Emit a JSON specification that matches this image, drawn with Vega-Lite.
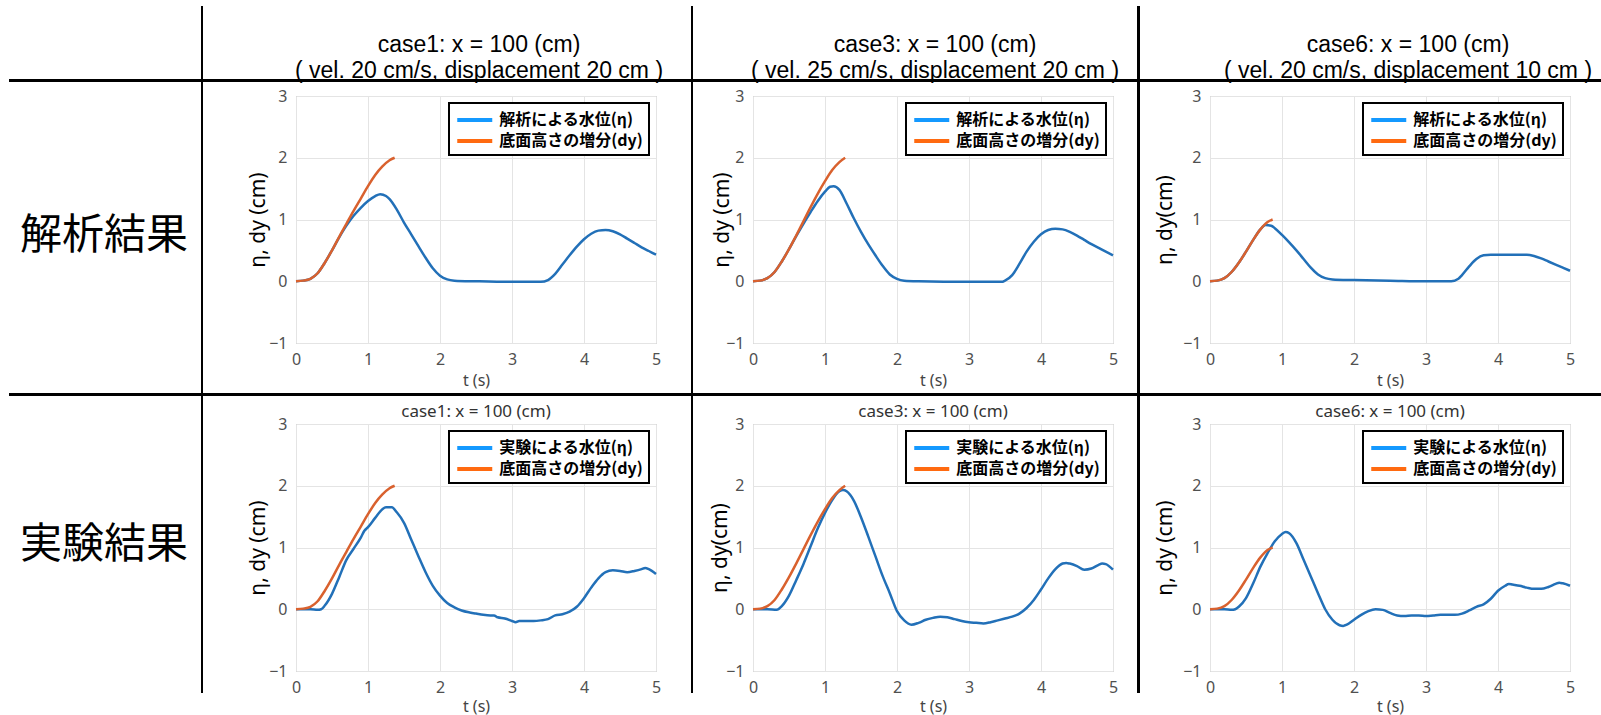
{
"$schema": "https://vega.github.io/schema/vega-lite/v6.json",
"padding": {"top": 6, "left": 0, "right": 0, "bottom": 0},
"columns": 14,
"spacing": 0,
"bounds": "flush",
"resolve": {"scale": {"color": "independent"}, "legend": {"color": "independent"}},
"data": {"values": []},
"datasets": {
"la": [{"s":"解析による水位(η)"},{"s":"底面高さの増分(dy)"}],
"le": [{"s":"実験による水位(η)"},{"s":"底面高さの増分(dy)"}],
"d1": [{"t":0,"v":0},{"t":0.1,"v":0.01},{"t":0.2,"v":0.04},{"t":0.3,"v":0.13},{"t":0.4,"v":0.3},{"t":0.5,"v":0.5},{"t":0.6,"v":0.72},{"t":0.7,"v":0.93},{"t":0.8,"v":1.14},{"t":0.9,"v":1.34},{"t":1.0,"v":1.54},{"t":1.1,"v":1.72},{"t":1.2,"v":1.86},{"t":1.3,"v":1.96},{"t":1.37,"v":2.0}],
"d3": [{"t":0,"v":0},{"t":0.1,"v":0.01},{"t":0.2,"v":0.05},{"t":0.3,"v":0.15},{"t":0.4,"v":0.32},{"t":0.5,"v":0.52},{"t":0.6,"v":0.74},{"t":0.7,"v":0.97},{"t":0.8,"v":1.2},{"t":0.9,"v":1.42},{"t":1.0,"v":1.62},{"t":1.1,"v":1.8},{"t":1.2,"v":1.93},{"t":1.28,"v":2.0}],
"d6": [{"t":0,"v":0},{"t":0.1,"v":0.01},{"t":0.2,"v":0.05},{"t":0.3,"v":0.15},{"t":0.4,"v":0.3},{"t":0.5,"v":0.48},{"t":0.6,"v":0.67},{"t":0.7,"v":0.84},{"t":0.8,"v":0.96},{"t":0.87,"v":1.0}],
"a1": [{"t":0,"v":0},{"t":0.1,"v":0.01},{"t":0.2,"v":0.04},{"t":0.3,"v":0.13},{"t":0.4,"v":0.3},{"t":0.5,"v":0.5},{"t":0.6,"v":0.71},{"t":0.7,"v":0.9},{"t":0.8,"v":1.06},{"t":0.9,"v":1.19},{"t":1.0,"v":1.3},{"t":1.1,"v":1.38},{"t":1.17,"v":1.41},{"t":1.25,"v":1.38},{"t":1.3,"v":1.33},{"t":1.4,"v":1.16},{"t":1.5,"v":0.95},{"t":1.6,"v":0.76},{"t":1.7,"v":0.57},{"t":1.8,"v":0.38},{"t":1.9,"v":0.21},{"t":2.0,"v":0.09},{"t":2.1,"v":0.03},{"t":2.2,"v":0.01},{"t":2.5,"v":0},{"t":3.0,"v":-0.01},{"t":3.4,"v":-0.01},{"t":3.5,"v":0.02},{"t":3.6,"v":0.12},{"t":3.7,"v":0.27},{"t":3.8,"v":0.42},{"t":3.9,"v":0.56},{"t":4.0,"v":0.68},{"t":4.1,"v":0.77},{"t":4.2,"v":0.82},{"t":4.3,"v":0.83},{"t":4.4,"v":0.81},{"t":4.5,"v":0.76},{"t":4.6,"v":0.69},{"t":4.7,"v":0.62},{"t":4.8,"v":0.55},{"t":4.9,"v":0.49},{"t":5.0,"v":0.43}],
"a3": [{"t":0,"v":0},{"t":0.1,"v":0.01},{"t":0.2,"v":0.05},{"t":0.3,"v":0.15},{"t":0.4,"v":0.32},{"t":0.5,"v":0.52},{"t":0.6,"v":0.73},{"t":0.7,"v":0.93},{"t":0.8,"v":1.12},{"t":0.9,"v":1.3},{"t":1.0,"v":1.45},{"t":1.07,"v":1.53},{"t":1.12,"v":1.54},{"t":1.2,"v":1.48},{"t":1.3,"v":1.26},{"t":1.4,"v":1.02},{"t":1.5,"v":0.8},{"t":1.6,"v":0.6},{"t":1.7,"v":0.42},{"t":1.8,"v":0.25},{"t":1.9,"v":0.11},{"t":2.0,"v":0.04},{"t":2.1,"v":0.01},{"t":2.3,"v":0},{"t":3.0,"v":-0.01},{"t":3.45,"v":-0.01},{"t":3.5,"v":0.01},{"t":3.6,"v":0.1},{"t":3.7,"v":0.28},{"t":3.8,"v":0.48},{"t":3.9,"v":0.64},{"t":4.0,"v":0.76},{"t":4.1,"v":0.83},{"t":4.2,"v":0.85},{"t":4.3,"v":0.84},{"t":4.4,"v":0.8},{"t":4.5,"v":0.74},{"t":4.6,"v":0.67},{"t":4.7,"v":0.6},{"t":4.8,"v":0.54},{"t":4.9,"v":0.48},{"t":5.0,"v":0.42}],
"a6": [{"t":0,"v":0},{"t":0.1,"v":0.01},{"t":0.2,"v":0.05},{"t":0.3,"v":0.15},{"t":0.4,"v":0.3},{"t":0.5,"v":0.48},{"t":0.6,"v":0.67},{"t":0.7,"v":0.84},{"t":0.77,"v":0.91},{"t":0.85,"v":0.9},{"t":0.9,"v":0.86},{"t":1.0,"v":0.75},{"t":1.1,"v":0.63},{"t":1.2,"v":0.5},{"t":1.3,"v":0.36},{"t":1.4,"v":0.22},{"t":1.5,"v":0.11},{"t":1.6,"v":0.05},{"t":1.7,"v":0.03},{"t":2.0,"v":0.02},{"t":2.5,"v":0.01},{"t":3.0,"v":0},{"t":3.35,"v":0},{"t":3.45,"v":0.04},{"t":3.5,"v":0.1},{"t":3.6,"v":0.24},{"t":3.7,"v":0.36},{"t":3.8,"v":0.42},{"t":3.9,"v":0.43},{"t":4.4,"v":0.43},{"t":4.5,"v":0.41},{"t":4.6,"v":0.37},{"t":4.7,"v":0.32},{"t":4.8,"v":0.27},{"t":4.9,"v":0.22},{"t":5.0,"v":0.17}],
"e1": [{"t":0,"v":0},{"t":0.1,"v":0},{"t":0.2,"v":0},{"t":0.3,"v":-0.01},{"t":0.35,"v":0},{"t":0.4,"v":0.06},{"t":0.5,"v":0.25},{"t":0.6,"v":0.52},{"t":0.7,"v":0.8},{"t":0.8,"v":0.98},{"t":0.9,"v":1.16},{"t":0.95,"v":1.27},{"t":1.0,"v":1.33},{"t":1.1,"v":1.48},{"t":1.2,"v":1.62},{"t":1.25,"v":1.65},{"t":1.33,"v":1.65},{"t":1.4,"v":1.57},{"t":1.5,"v":1.4},{"t":1.6,"v":1.13},{"t":1.7,"v":0.86},{"t":1.8,"v":0.6},{"t":1.9,"v":0.38},{"t":2.0,"v":0.22},{"t":2.1,"v":0.1},{"t":2.2,"v":0.03},{"t":2.3,"v":-0.02},{"t":2.4,"v":-0.05},{"t":2.5,"v":-0.07},{"t":2.6,"v":-0.09},{"t":2.7,"v":-0.1},{"t":2.75,"v":-0.1},{"t":2.8,"v":-0.13},{"t":2.9,"v":-0.15},{"t":3.0,"v":-0.19},{"t":3.05,"v":-0.21},{"t":3.1,"v":-0.19},{"t":3.2,"v":-0.19},{"t":3.3,"v":-0.19},{"t":3.4,"v":-0.18},{"t":3.5,"v":-0.16},{"t":3.6,"v":-0.1},{"t":3.7,"v":-0.08},{"t":3.8,"v":-0.04},{"t":3.9,"v":0.04},{"t":4.0,"v":0.18},{"t":4.1,"v":0.35},{"t":4.2,"v":0.5},{"t":4.3,"v":0.6},{"t":4.4,"v":0.63},{"t":4.5,"v":0.62},{"t":4.6,"v":0.6},{"t":4.7,"v":0.62},{"t":4.8,"v":0.65},{"t":4.85,"v":0.67},{"t":4.9,"v":0.65},{"t":5.0,"v":0.57}],
"e3": [{"t":0,"v":0},{"t":0.1,"v":0},{"t":0.2,"v":0},{"t":0.33,"v":-0.01},{"t":0.4,"v":0.05},{"t":0.5,"v":0.22},{"t":0.6,"v":0.47},{"t":0.7,"v":0.73},{"t":0.8,"v":1.02},{"t":0.9,"v":1.31},{"t":1.0,"v":1.56},{"t":1.1,"v":1.77},{"t":1.2,"v":1.91},{"t":1.25,"v":1.93},{"t":1.3,"v":1.91},{"t":1.4,"v":1.76},{"t":1.5,"v":1.49},{"t":1.6,"v":1.18},{"t":1.7,"v":0.86},{"t":1.8,"v":0.54},{"t":1.9,"v":0.26},{"t":2.0,"v":-0.03},{"t":2.1,"v":-0.18},{"t":2.2,"v":-0.25},{"t":2.3,"v":-0.22},{"t":2.4,"v":-0.17},{"t":2.5,"v":-0.14},{"t":2.6,"v":-0.12},{"t":2.7,"v":-0.13},{"t":2.8,"v":-0.16},{"t":2.9,"v":-0.19},{"t":3.0,"v":-0.21},{"t":3.1,"v":-0.22},{"t":3.2,"v":-0.23},{"t":3.3,"v":-0.21},{"t":3.4,"v":-0.18},{"t":3.5,"v":-0.15},{"t":3.6,"v":-0.12},{"t":3.7,"v":-0.07},{"t":3.8,"v":0.02},{"t":3.9,"v":0.15},{"t":4.0,"v":0.32},{"t":4.1,"v":0.5},{"t":4.2,"v":0.65},{"t":4.3,"v":0.74},{"t":4.35,"v":0.75},{"t":4.4,"v":0.74},{"t":4.5,"v":0.7},{"t":4.6,"v":0.64},{"t":4.7,"v":0.66},{"t":4.8,"v":0.72},{"t":4.85,"v":0.74},{"t":4.9,"v":0.73},{"t":5.0,"v":0.64}],
"e6": [{"t":0,"v":0},{"t":0.1,"v":0},{"t":0.2,"v":0},{"t":0.3,"v":-0.01},{"t":0.35,"v":0},{"t":0.4,"v":0.04},{"t":0.5,"v":0.18},{"t":0.6,"v":0.42},{"t":0.7,"v":0.69},{"t":0.8,"v":0.91},{"t":0.9,"v":1.1},{"t":1.0,"v":1.22},{"t":1.05,"v":1.25},{"t":1.1,"v":1.23},{"t":1.2,"v":1.07},{"t":1.3,"v":0.8},{"t":1.4,"v":0.53},{"t":1.5,"v":0.26},{"t":1.6,"v":0.0},{"t":1.7,"v":-0.17},{"t":1.8,"v":-0.26},{"t":1.85,"v":-0.27},{"t":1.9,"v":-0.25},{"t":2.0,"v":-0.17},{"t":2.1,"v":-0.09},{"t":2.2,"v":-0.03},{"t":2.3,"v":0.0},{"t":2.4,"v":-0.01},{"t":2.5,"v":-0.06},{"t":2.6,"v":-0.1},{"t":2.7,"v":-0.11},{"t":2.8,"v":-0.1},{"t":2.9,"v":-0.1},{"t":3.0,"v":-0.11},{"t":3.1,"v":-0.1},{"t":3.2,"v":-0.09},{"t":3.3,"v":-0.09},{"t":3.4,"v":-0.09},{"t":3.5,"v":-0.07},{"t":3.6,"v":-0.02},{"t":3.7,"v":0.04},{"t":3.8,"v":0.08},{"t":3.9,"v":0.17},{"t":4.0,"v":0.3},{"t":4.1,"v":0.38},{"t":4.15,"v":0.41},{"t":4.2,"v":0.4},{"t":4.3,"v":0.38},{"t":4.4,"v":0.35},{"t":4.5,"v":0.33},{"t":4.6,"v":0.33},{"t":4.7,"v":0.36},{"t":4.8,"v":0.41},{"t":4.85,"v":0.43},{"t":4.9,"v":0.42},{"t":5.0,"v":0.38}]
},
"concat": [
{"width":9,"height":73,"mark":"point"},
{"width":192,"height":73,"mark":"point"},
{"width":2,"height":73,"mark":"point","view":{"fill":"#000"}},
{"width":93,"height":73,"mark":"point"},
{"width":360,"height":73,"data":{"values":[{"h":"case1: x = 100 (cm)\n( vel. 20 cm/s, displacement 20 cm )"}]},"mark":{"type":"text","font":"Liberation Sans","fontSize":23,"lineBreak":"\n","lineHeight":26.5,"color":"#000","dx":3,"dy":2},"encoding":{"text":{"field":"h","type":"nominal"}}},
{"width":35,"height":73,"mark":"point"},
{"width":2,"height":73,"mark":"point","view":{"fill":"#000"}},
{"width":60,"height":73,"mark":"point"},
{"width":360,"height":73,"data":{"values":[{"h":"case3: x = 100 (cm)\n( vel. 25 cm/s, displacement 20 cm )"}]},"mark":{"type":"text","font":"Liberation Sans","fontSize":23,"lineBreak":"\n","lineHeight":26.5,"color":"#000","dx":2,"dy":2},"encoding":{"text":{"field":"h","type":"nominal"}}},
{"width":24,"height":73,"mark":"point"},
{"width":3,"height":73,"mark":"point","view":{"fill":"#000"}},
{"width":70,"height":73,"mark":"point"},
{"width":360,"height":73,"data":{"values":[{"h":"case6: x = 100 (cm)\n( vel. 20 cm/s, displacement 10 cm )"}]},"mark":{"type":"text","font":"Liberation Sans","fontSize":23,"lineBreak":"\n","lineHeight":26.5,"color":"#000","dx":18,"dy":2},"encoding":{"text":{"field":"h","type":"nominal"}}},
{"width":31,"height":73,"mark":"point"},

{"width":9,"height":3,"mark":"point"},
{"width":192,"height":3,"mark":"point","view":{"fill":"#000"}},
{"width":2,"height":3,"mark":"point","view":{"fill":"#000"}},
{"width":93,"height":3,"mark":"point","view":{"fill":"#000"}},
{"width":360,"height":3,"mark":"point","view":{"fill":"#000"}},
{"width":35,"height":3,"mark":"point","view":{"fill":"#000"}},
{"width":2,"height":3,"mark":"point","view":{"fill":"#000"}},
{"width":60,"height":3,"mark":"point","view":{"fill":"#000"}},
{"width":360,"height":3,"mark":"point","view":{"fill":"#000"}},
{"width":24,"height":3,"mark":"point","view":{"fill":"#000"}},
{"width":3,"height":3,"mark":"point","view":{"fill":"#000"}},
{"width":70,"height":3,"mark":"point","view":{"fill":"#000"}},
{"width":360,"height":3,"mark":"point","view":{"fill":"#000"}},
{"width":31,"height":3,"mark":"point","view":{"fill":"#000"}},

{"width":9,"height":14,"mark":"point"},
{"width":192,"height":14,"mark":"point"},
{"width":2,"height":14,"mark":"point","view":{"fill":"#000"}},
{"width":93,"height":14,"mark":"point"},
{"width":360,"height":14,"mark":"point"},
{"width":35,"height":14,"mark":"point"},
{"width":2,"height":14,"mark":"point","view":{"fill":"#000"}},
{"width":60,"height":14,"mark":"point"},
{"width":360,"height":14,"mark":"point"},
{"width":24,"height":14,"mark":"point"},
{"width":3,"height":14,"mark":"point","view":{"fill":"#000"}},
{"width":70,"height":14,"mark":"point"},
{"width":360,"height":14,"mark":"point"},
{"width":31,"height":14,"mark":"point"},

{"width":9,"height":247,"mark":"point"},
{"width":192,"height":247,"data":{"values":[{"h":"解析結果"}]},"mark":{"type":"text","font":"Noto Sans CJK JP","fontSize":42,"color":"#000","dx":-1,"dy":16.5},"encoding":{"text":{"field":"h","type":"nominal"}}},
{"width":2,"height":247,"mark":"point","view":{"fill":"#000"}},
{"width":93,"height":247,"mark":"point"},
{"width":360,"height":247,"view":{"stroke":"#a3a3a3"},
 "encoding":{"x":{"field":"t","type":"quantitative","scale":{"domain":[0,5],"nice":false},"axis":{"values":[0,1,2,3,4,5],"title":"t (s)","titlePadding":5}},
  "y":{"field":"v","type":"quantitative","scale":{"domain":[-1,3],"nice":false},"axis":{"values":[-1,0,1,2,3],"title":"η, dy (cm)","titlePadding":0}}},
 "layer":[
  {"data":{"name":"a1"},"mark":{"type":"line","color":"#2270b8","strokeWidth":2.5}},
  {"data":{"name":"d1"},"mark":{"type":"line","color":"#d9612e","strokeWidth":2.5}},
  {"data":{"name":"la"},"mark":"line","encoding":{"color":{"field":"s","type":"nominal","scale":{"domain":["解析による水位(η)","底面高さの増分(dy)"],"range":["#1499ff","#ff6a10"]},"legend":{"title":null}}}}
 ]},
{"width":35,"height":247,"mark":"point"},
{"width":2,"height":247,"mark":"point","view":{"fill":"#000"}},
{"width":60,"height":247,"mark":"point"},
{"width":360,"height":247,"view":{"stroke":"#a3a3a3"},
 "encoding":{"x":{"field":"t","type":"quantitative","scale":{"domain":[0,5],"nice":false},"axis":{"values":[0,1,2,3,4,5],"title":"t (s)","titlePadding":5}},
  "y":{"field":"v","type":"quantitative","scale":{"domain":[-1,3],"nice":false},"axis":{"values":[-1,0,1,2,3],"title":"η, dy (cm)","titlePadding":-7}}},
 "layer":[
  {"data":{"name":"a3"},"mark":{"type":"line","color":"#2270b8","strokeWidth":2.5}},
  {"data":{"name":"d3"},"mark":{"type":"line","color":"#d9612e","strokeWidth":2.5}},
  {"data":{"name":"la"},"mark":"line","encoding":{"color":{"field":"s","type":"nominal","scale":{"domain":["解析による水位(η)","底面高さの増分(dy)"],"range":["#1499ff","#ff6a10"]},"legend":{"title":null}}}}
 ]},
{"width":24,"height":247,"mark":"point"},
{"width":3,"height":247,"mark":"point","view":{"fill":"#000"}},
{"width":70,"height":247,"mark":"point"},
{"width":360,"height":247,"view":{"stroke":"#a3a3a3"},
 "encoding":{"x":{"field":"t","type":"quantitative","scale":{"domain":[0,5],"nice":false},"axis":{"values":[0,1,2,3,4,5],"title":"t (s)","titlePadding":5}},
  "y":{"field":"v","type":"quantitative","scale":{"domain":[-1,3],"nice":false},"axis":{"values":[-1,0,1,2,3],"title":"η, dy(cm)","titlePadding":7}}},
 "layer":[
  {"data":{"name":"a6"},"mark":{"type":"line","color":"#2270b8","strokeWidth":2.5}},
  {"data":{"name":"d6"},"mark":{"type":"line","color":"#d9612e","strokeWidth":2.5}},
  {"data":{"name":"la"},"mark":"line","encoding":{"color":{"field":"s","type":"nominal","scale":{"domain":["解析による水位(η)","底面高さの増分(dy)"],"range":["#1499ff","#ff6a10"]},"legend":{"title":null}}}}
 ]},
{"width":31,"height":247,"mark":"point"},

{"width":9,"height":50,"mark":"point"},
{"width":192,"height":50,"mark":"point"},
{"width":2,"height":50,"mark":"point","view":{"fill":"#000"}},
{"width":93,"height":50,"mark":"point"},
{"width":360,"height":50,"mark":"point"},
{"width":35,"height":50,"mark":"point"},
{"width":2,"height":50,"mark":"point","view":{"fill":"#000"}},
{"width":60,"height":50,"mark":"point"},
{"width":360,"height":50,"mark":"point"},
{"width":24,"height":50,"mark":"point"},
{"width":3,"height":50,"mark":"point","view":{"fill":"#000"}},
{"width":70,"height":50,"mark":"point"},
{"width":360,"height":50,"mark":"point"},
{"width":31,"height":50,"mark":"point"},

{"width":9,"height":3,"mark":"point"},
{"width":192,"height":3,"mark":"point","view":{"fill":"#000"}},
{"width":2,"height":3,"mark":"point","view":{"fill":"#000"}},
{"width":93,"height":3,"mark":"point","view":{"fill":"#000"}},
{"width":360,"height":3,"mark":"point","view":{"fill":"#000"}},
{"width":35,"height":3,"mark":"point","view":{"fill":"#000"}},
{"width":2,"height":3,"mark":"point","view":{"fill":"#000"}},
{"width":60,"height":3,"mark":"point","view":{"fill":"#000"}},
{"width":360,"height":3,"mark":"point","view":{"fill":"#000"}},
{"width":24,"height":3,"mark":"point","view":{"fill":"#000"}},
{"width":3,"height":3,"mark":"point","view":{"fill":"#000"}},
{"width":70,"height":3,"mark":"point","view":{"fill":"#000"}},
{"width":360,"height":3,"mark":"point","view":{"fill":"#000"}},
{"width":31,"height":3,"mark":"point","view":{"fill":"#000"}},

{"width":9,"height":28,"mark":"point"},
{"width":192,"height":28,"mark":"point"},
{"width":2,"height":28,"mark":"point","view":{"fill":"#000"}},
{"width":93,"height":28,"mark":"point"},
{"width":360,"height":28,"mark":"point"},
{"width":35,"height":28,"mark":"point"},
{"width":2,"height":28,"mark":"point","view":{"fill":"#000"}},
{"width":60,"height":28,"mark":"point"},
{"width":360,"height":28,"mark":"point"},
{"width":24,"height":28,"mark":"point"},
{"width":3,"height":28,"mark":"point","view":{"fill":"#000"}},
{"width":70,"height":28,"mark":"point"},
{"width":360,"height":28,"mark":"point"},
{"width":31,"height":28,"mark":"point"},

{"width":9,"height":247,"mark":"point"},
{"width":192,"height":247,"data":{"values":[{"h":"実験結果"}]},"mark":{"type":"text","font":"Noto Sans CJK JP","fontSize":42,"color":"#000","dx":-1,"dy":-2.5},"encoding":{"text":{"field":"h","type":"nominal"}}},
{"width":2,"height":247,"mark":"point","view":{"fill":"#000"}},
{"width":93,"height":247,"mark":"point"},
{"width":360,"height":247,"view":{"stroke":"#a3a3a3"},"title":{"text":"case1: x = 100 (cm)","frame":"group","dy":11},
 "encoding":{"x":{"field":"t","type":"quantitative","scale":{"domain":[0,5],"nice":false},"axis":{"values":[0,1,2,3,4,5],"title":"t (s)","titlePadding":3}},
  "y":{"field":"v","type":"quantitative","scale":{"domain":[-1,3],"nice":false},"axis":{"values":[-1,0,1,2,3],"title":"η, dy (cm)","titlePadding":0}}},
 "layer":[
  {"data":{"name":"e1"},"mark":{"type":"line","color":"#2270b8","strokeWidth":2.5}},
  {"data":{"name":"d1"},"mark":{"type":"line","color":"#d9612e","strokeWidth":2.5}},
  {"data":{"name":"le"},"mark":"line","encoding":{"color":{"field":"s","type":"nominal","scale":{"domain":["実験による水位(η)","底面高さの増分(dy)"],"range":["#1499ff","#ff6a10"]},"legend":{"title":null}}}}
 ]},
{"width":35,"height":247,"mark":"point"},
{"width":2,"height":247,"mark":"point","view":{"fill":"#000"}},
{"width":60,"height":247,"mark":"point"},
{"width":360,"height":247,"view":{"stroke":"#a3a3a3"},"title":{"text":"case3: x = 100 (cm)","frame":"group","dy":11},
 "encoding":{"x":{"field":"t","type":"quantitative","scale":{"domain":[0,5],"nice":false},"axis":{"values":[0,1,2,3,4,5],"title":"t (s)","titlePadding":3}},
  "y":{"field":"v","type":"quantitative","scale":{"domain":[-1,3],"nice":false},"axis":{"values":[-1,0,1,2,3],"title":"η, dy(cm)","titlePadding":-5}}},
 "layer":[
  {"data":{"name":"e3"},"mark":{"type":"line","color":"#2270b8","strokeWidth":2.5}},
  {"data":{"name":"d3"},"mark":{"type":"line","color":"#d9612e","strokeWidth":2.5}},
  {"data":{"name":"le"},"mark":"line","encoding":{"color":{"field":"s","type":"nominal","scale":{"domain":["実験による水位(η)","底面高さの増分(dy)"],"range":["#1499ff","#ff6a10"]},"legend":{"title":null}}}}
 ]},
{"width":24,"height":247,"mark":"point"},
{"width":3,"height":247,"mark":"point","view":{"fill":"#000"}},
{"width":70,"height":247,"mark":"point"},
{"width":360,"height":247,"view":{"stroke":"#a3a3a3"},"title":{"text":"case6: x = 100 (cm)","frame":"group","dy":11},
 "encoding":{"x":{"field":"t","type":"quantitative","scale":{"domain":[0,5],"nice":false},"axis":{"values":[0,1,2,3,4,5],"title":"t (s)","titlePadding":3}},
  "y":{"field":"v","type":"quantitative","scale":{"domain":[-1,3],"nice":false},"axis":{"values":[-1,0,1,2,3],"title":"η, dy (cm)","titlePadding":7}}},
 "layer":[
  {"data":{"name":"e6"},"mark":{"type":"line","color":"#2270b8","strokeWidth":2.5}},
  {"data":{"name":"d6"},"mark":{"type":"line","color":"#d9612e","strokeWidth":2.5}},
  {"data":{"name":"le"},"mark":"line","encoding":{"color":{"field":"s","type":"nominal","scale":{"domain":["実験による水位(η)","底面高さの増分(dy)"],"range":["#1499ff","#ff6a10"]},"legend":{"title":null}}}}
 ]},
{"width":31,"height":247,"mark":"point"},

{"width":9,"height":22,"mark":"point"},
{"width":192,"height":22,"mark":"point"},
{"width":2,"height":22,"mark":"point","view":{"fill":"#000"}},
{"width":93,"height":22,"mark":"point"},
{"width":360,"height":22,"mark":"point"},
{"width":35,"height":22,"mark":"point"},
{"width":2,"height":22,"mark":"point","view":{"fill":"#000"}},
{"width":60,"height":22,"mark":"point"},
{"width":360,"height":22,"mark":"point"},
{"width":24,"height":22,"mark":"point"},
{"width":3,"height":22,"mark":"point","view":{"fill":"#000"}},
{"width":70,"height":22,"mark":"point"},
{"width":360,"height":22,"mark":"point"},
{"width":31,"height":22,"mark":"point"}
],
"config": {
 "view": {"stroke": null},
 "font": "Noto Sans",
 "line": {"interpolate": "monotone"},
 "axis": {"grid": true, "gridColor": "#e4e4e4", "domain": false, "ticks": false, "labelFont": "Noto Sans", "labelFontSize": 16, "labelColor": "#505050", "labelFlush": false, "labelOverlap": false, "titleFont": "Noto Sans", "titleFontWeight": "normal"},
 "axisX": {"labelPadding": 8, "titleFontSize": 16, "titleColor": "#444444"},
 "axisY": {"labelPadding": 9, "titleFontSize": 21, "titleColor": "#000000"},
 "title": {"font": "Noto Sans", "fontSize": 17, "fontWeight": "normal", "color": "#333333", "offset": 6},
 "legend": {"orient": "top-right", "offset": 7, "padding": 6, "rowPadding": 2, "fillColor": "#ffffff", "strokeColor": "#000000", "strokeWidth": 2, "symbolType": "M-2,0H2", "symbolSize": 306.25, "symbolOffset": 8.75, "symbolStrokeWidth": 4, "symbolOpacity": 1, "labelFont": "Noto Sans CJK JP", "labelFontSize": 16, "labelFontWeight": "bold", "labelColor": "#000000", "labelOffset": 13.5, "labelLimit": 400}
}
}
